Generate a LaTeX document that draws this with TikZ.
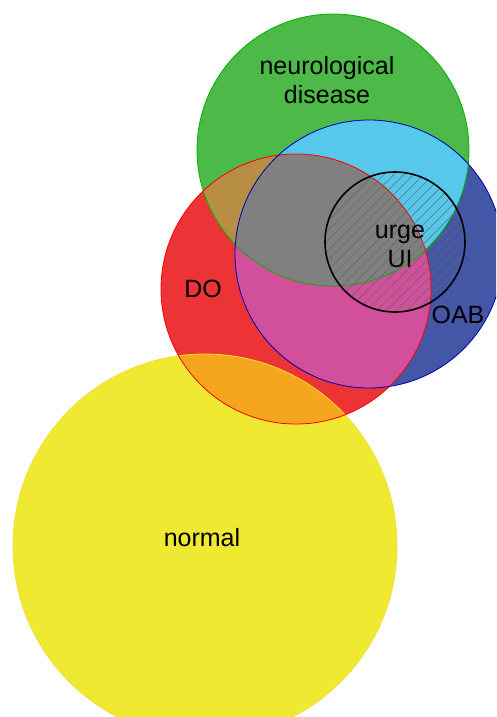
\documentclass[tikz,border=0pt]{standalone}
\usepackage{fontspec}
\setmainfont{Liberation Sans}
\usetikzlibrary{patterns.meta}

\definecolor{neurogreen}{RGB}{77,185,72}
\definecolor{dored}{RGB}{236,51,53}
\definecolor{oabblue}{RGB}{68,86,166}
\definecolor{normyellow}{RGB}{240,233,50}
\definecolor{olivemix}{RGB}{183,142,68}
\definecolor{cyanmix}{RGB}{86,200,235}
\definecolor{graymix}{RGB}{128,128,128}
\definecolor{magentamix}{RGB}{210,80,155}
\definecolor{orangemix}{RGB}{245,166,30}

% circle paths
\newcommand{\neurocirc}{(333,150) circle (136pt)}
\newcommand{\docirc}{(296,289) circle (135pt)}
\newcommand{\oabcirc}{(369,254) circle (134pt)}
\newcommand{\normcirc}{(205,546) circle (192pt)}
\newcommand{\urgecirc}{(395,242) circle (70pt)}

\begin{document}
\begin{tikzpicture}[x=1pt,y=-1pt]
  \tikzstyle{set label}=[font=\fontsize{25}{29}\selectfont, align=center, text=black]
  \tikzstyle{rim}=[line width=0.8pt]
  \useasboundingbox (0,0) rectangle (496,717);
  \begin{scope}
    \clip (0,0) rectangle (496,717);
    % plain sets
    \fill[normyellow] \normcirc;
    \fill[neurogreen] \neurocirc;
    \fill[dored] \docirc;
    \fill[oabblue] \oabcirc;
    % overlaps
    \begin{scope}
      \clip \docirc;
      \fill[orangemix] \normcirc;
    \end{scope}
    \begin{scope}
      \clip \neurocirc;
      \fill[olivemix] \docirc;
    \end{scope}
    \begin{scope}
      \clip \neurocirc;
      \fill[cyanmix] \oabcirc;
    \end{scope}
    \begin{scope}
      \clip \docirc;
      \fill[magentamix] \oabcirc;
    \end{scope}
    \begin{scope}
      \clip \neurocirc;
      \clip \docirc;
      \fill[graymix] \oabcirc;
    \end{scope}
    % rims
    \draw[rim, normyellow!90!orange] \normcirc;
    \draw[rim, green!70!black] \neurocirc;
    \draw[rim, red] \docirc;
    \draw[rim, blue!70!black] \oabcirc;
    % urge UI
    \fill[pattern={Lines[angle=45,distance=7pt,line width=0.5pt]}, pattern color=black!60] \urgecirc;
    \draw[line width=1.6pt, black] \urgecirc;
  \end{scope}
  \node(neuro)[set label] at (327,80) {neurological\\disease};
  \node(do)[set label] at (203,289) {DO};
  \node(oab)[set label] at (458,315) {OAB};
  \node(urge)[set label] at (400,246) {urge\\UI};
  \node(normal)[set label] at (202,538) {normal};
\end{tikzpicture}
\end{document}
